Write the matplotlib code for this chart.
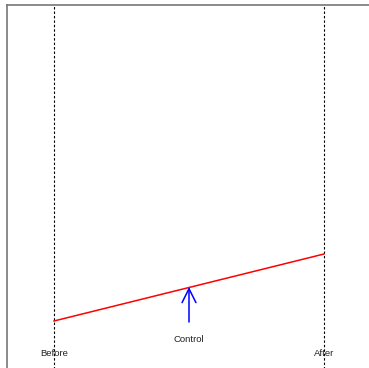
import matplotlib
matplotlib.use("Agg")
import matplotlib.pyplot as plt

plt.rcParams['font.family'] = ['Liberation Sans', 'DejaVu Sans']

# data
periods = ["Before", "After"]
period_x = [0, 1]
outcome = [0.21, 0.3775]
control_x = 0.5
control_tip = 0.295
control_tail = 0.2075
control_label_y = 0.165
period_label_y = 0.1275

fig = plt.figure(figsize=(3.69, 3.68), dpi=100)
# axes box runs past the right and bottom edges of the figure
ax = fig.add_axes([7 / 369, -37 / 368, 400 / 369, 400 / 368])
ax.set_xlim(-47 / 270, 353 / 270)
ax.set_ylim(0, 1)

for sp in ax.spines.values():
    sp.set_color('#777777')
    sp.set_linewidth(1.2)
ax.set_xticks([])
ax.set_yticks([])

# vertical reference lines
for x in period_x:
    ax.axvline(x, color='black', linewidth=0.8, linestyle=(0, (2.2, 1.8)))

# treatment line
ax.plot(period_x, outcome, color='red', linewidth=1.1)

# control arrow
ax.annotate('', xy=(control_x, control_tip), xytext=(control_x, control_tail),
            arrowprops=dict(arrowstyle='->,head_length=1.0,head_width=0.5',
                            mutation_scale=10, color='blue', lw=1.1,
                            shrinkA=0, shrinkB=0))
ax.text(control_x, control_label_y, 'Control', ha='center', va='center',
        fontsize=6.8, color='#222222')

for x, lab in zip(period_x, periods):
    ax.text(x, period_label_y, lab, ha='center', va='center',
            fontsize=6.8, color='#222222')

fig.savefig('out.png', dpi=100)
